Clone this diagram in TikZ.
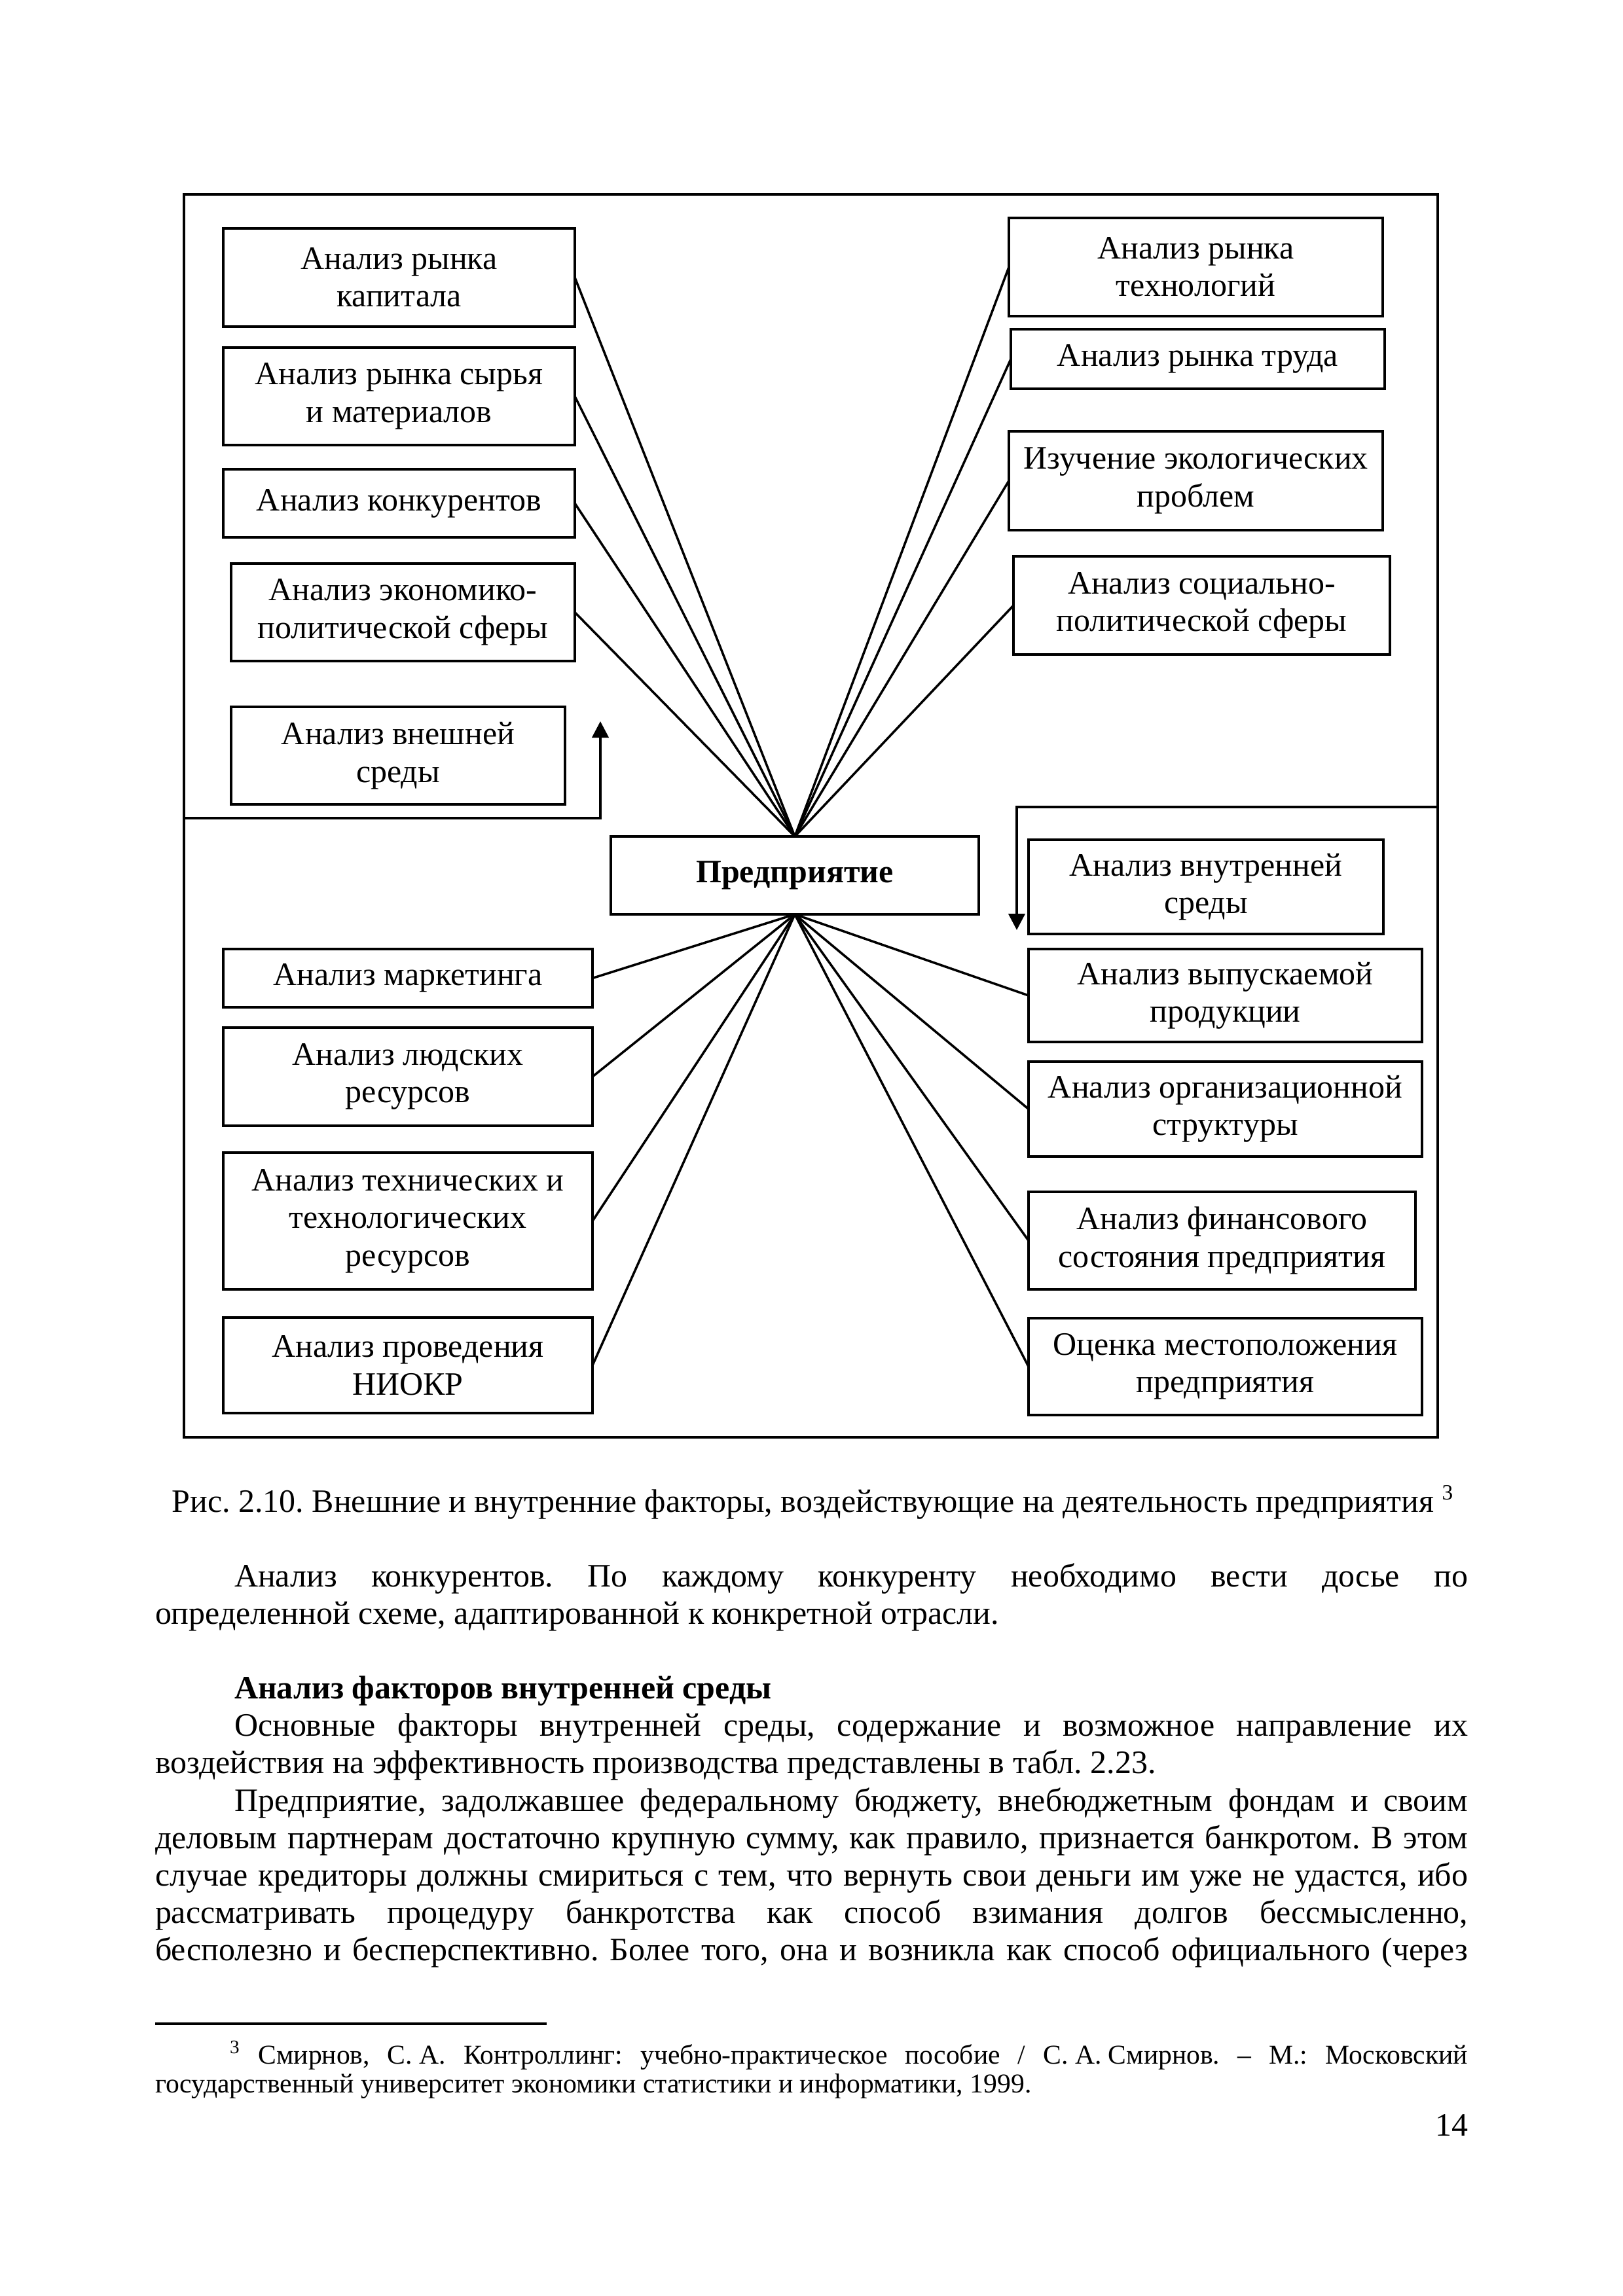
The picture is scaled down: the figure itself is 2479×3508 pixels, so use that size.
\documentclass[tikz,border=0pt]{standalone}
\usepackage{fontspec}
\setmainfont{Liberation Serif}
\usetikzlibrary{arrows.meta}
\frenchspacing
\newlength\fullw \setlength\fullw{481.5pt}
\newlength\indw \setlength\indw{452.4pt}
\newlength\footw \setlength\footw{454.1pt}
\newcommand\mybox[6]{\node[bx, minimum width={(#4-#2)*0.24013pt}, minimum height={(#5-#3)*0.24013pt}] (#1) at ({(#2+#4)/2},{(#3+#5)/2}) {#6};}
\begin{document}
\begin{tikzpicture}[x=0.24013pt,y=-0.24013pt,
  bx/.style={draw, line width=0.8pt, inner sep=0pt, outer sep=0pt, align=center, font=\fontsize{12}{13.8}\selectfont},
  conn/.style={line width=0.85pt},
  frm/.style={line width=1pt},
  arr/.style={line width=1pt, -{Triangle[length=6pt,width=6pt]}},
  txt/.style={inner sep=0pt, outer sep=0pt, anchor=base west, font=\fontsize{12}{13.8}\selectfont},
  ftxt/.style={inner sep=0pt, outer sep=0pt, anchor=base west, font=\fontsize{10}{11.5}\selectfont}]
\useasboundingbox (0,0) rectangle (2479,3508);
\fill[white] (0,0) rectangle (2479,3508);
% frame
\draw[frm] (281,297) rectangle (2196,2196);
% boxes upper left
\mybox{L1}{341}{349}{878}{499}{Анализ рынка\\капитала}
\mybox{L2}{341}{531}{878}{680}{Анализ рынка сырья\\и материалов}
\mybox{L3}{341}{717}{878}{821}{Анализ конкурентов}
\mybox{L4}{353}{861}{878}{1010}{Анализ экономико-\\политической сферы}
\mybox{L5}{353}{1080}{863}{1229}{Анализ внешней\\среды}
% upper right
\mybox{R1}{1541}{333}{2112}{483}{Анализ рынка\\технологий}
\mybox{R2}{1544}{503}{2115}{594}{Анализ рынка труда}
\mybox{R3}{1541}{659}{2112}{810}{Изучение экологических\\проблем}
\mybox{R4}{1548}{850}{2123}{1000}{Анализ социально-\\политической сферы}
% center
\mybox{C}{933}{1278}{1495}{1397}{\bfseries Предприятие}
% lower right
\mybox{R5}{1571}{1283}{2113}{1427}{Анализ внутренней\\среды}
\mybox{R6}{1571}{1450}{2172}{1592}{Анализ выпускаемой\\продукции}
\mybox{R7}{1571}{1622}{2172}{1767}{Анализ организационной\\структуры}
\mybox{R8}{1571}{1821}{2162}{1970}{Анализ финансового\\состояния предприятия}
\mybox{R9}{1571}{2014}{2172}{2162}{Оценка местоположения\\предприятия}
% lower left
\mybox{L6}{341}{1450}{905}{1539}{Анализ маркетинга}
\mybox{L7}{341}{1570}{905}{1720}{Анализ людских\\ресурсов}
\mybox{L8}{341}{1761}{905}{1970}{Анализ технических и\\технологических\\ресурсов}
\mybox{L9}{341}{2013}{905}{2159}{Анализ проведения\\НИОКР}
% connectors
\foreach \b in {L1,L2,L3,L4} \draw[conn] (\b.east) -- (C.north);
\foreach \b in {R1,R2,R3,R4} \draw[conn] (\b.west) -- (C.north);
\foreach \b in {L6,L7,L8,L9} \draw[conn] (\b.east) -- (C.south);
\foreach \b in {R6,R7,R8,R9} \draw[conn] (\b.west) -- (C.south);
% arrows
\coordinate (fl) at (281,1250);
\coordinate (lc) at (917,1250);
\coordinate (lt) at (917,1102);
\draw[arr] (fl) -- (lc) -- (lt);
\coordinate (fr) at (2196,1233);
\coordinate (rc) at (1553,1233);
\coordinate (rt) at (1553,1421);
\draw[arr] (fr) -- (rc) -- (rt);
% text
\node[txt, anchor=base] (cap) at (1242,2310) {Рис. 2.10. Внешние и внутренние факторы, воздействующие на деятельность предприятия \textsuperscript{3}};
\node[txt] (t1) at (358,2424) {\makebox[\indw][s]{Анализ конкурентов. По каждому конкуренту необходимо вести досье по}};
\node[txt] (t2) at (237,2481) {определенной схеме, адаптированной к конкретной отрасли.};
\node[txt] (h1) at (358,2595) {\bfseries Анализ факторов внутренней среды};
\node[txt] (t3) at (358,2652) {\makebox[\indw][s]{Основные факторы внутренней среды, содержание и возможное направление их}};
\node[txt] (t4) at (237,2709) {воздействия на эффективность производства представлены в табл. 2.23.};
\node[txt] (t5) at (358,2767) {\makebox[\indw][s]{Предприятие, задолжавшее федеральному бюджету, внебюджетным фондам и своим}};
\node[txt] (t6) at (237,2824) {\makebox[\fullw][s]{деловым партнерам достаточно крупную сумму, как правило, признается банкротом. В этом}};
\node[txt] (t7) at (237,2881) {\makebox[\fullw][s]{случае кредиторы должны смириться с тем, что вернуть свои деньги им уже не удастся, ибо}};
\node[txt] (t8) at (237,2938) {\makebox[\fullw][s]{рассматривать процедуру банкротства как способ взимания долгов бессмысленно,}};
\node[txt] (t9) at (237,2995) {\makebox[\fullw][s]{бесполезно и бесперспективно. Более того, она и возникла как способ официального (через}};
% footnote
\coordinate (fa) at (237,3092);
\coordinate (fb) at (835,3092);
\draw[line width=0.8pt] (fa) -- (fb);
\node[ftxt] (f1) at (351,3153) {\makebox[\footw][s]{\textsuperscript{3} Смирнов, \mbox{С. А.} Контроллинг: учебно-практическое пособие / \mbox{С. А. Смирнов.} – М.: Московский}};
\node[ftxt] (f2) at (237,3197) {государственный университет экономики статистики и информатики, 1999.};
\node[txt, anchor=base east] (pg) at (2242,3263) {14};
\end{tikzpicture}
\end{document}
